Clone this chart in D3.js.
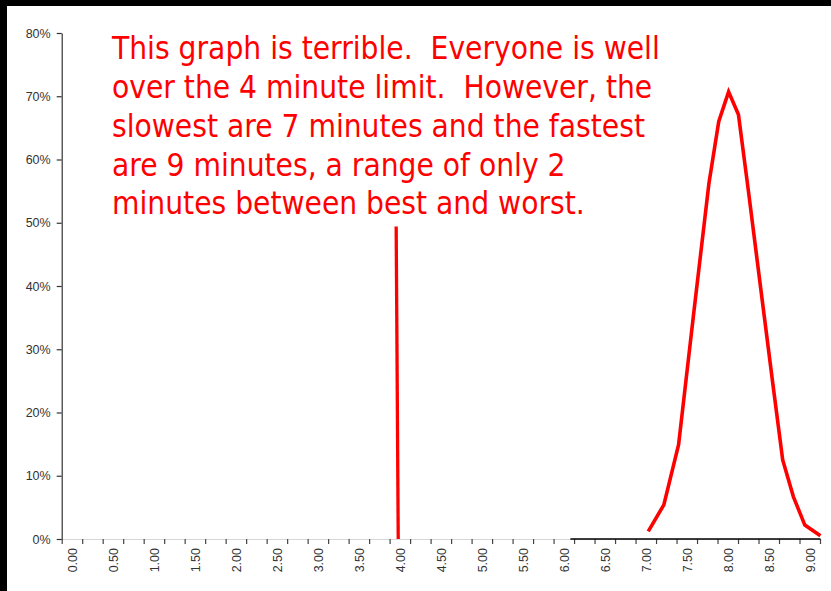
<!DOCTYPE html>
<html>
<head>
<meta charset="utf-8">
<script src="https://cdn.jsdelivr.net/npm/d3@7"></script>
<style>
  html, body { margin: 0; padding: 0; background: #000; }
  svg { display: block; }
</style>
</head>
<body>
<script>
// ---- data ----
const xTickLabels = ["0.00","0.50","1.00","1.50","2.00","2.50","3.00","3.50","4.00","4.50",
                     "5.00","5.50","6.00","6.50","7.00","7.50","8.00","8.50","9.00"];
const xLabelValues = [0,0.5,1,1.5,2,2.5,3,3.5,4,4.5,5,5.5,6,6.5,7,7.5,8,8.5,9];
const yTickValues = [0,0.1,0.2,0.3,0.4,0.5,0.6,0.7,0.8];
const yTickLabels = ["0%","10%","20%","30%","40%","50%","60%","70%","80%"];

// distribution of times (minutes) and share of people
const minutes = [7.03, 7.22, 7.40, 7.58, 7.77, 7.89, 8.01, 8.13, 8.25, 8.40, 8.55, 8.67, 8.80, 8.94, 9.13];
const share   = [0.012,0.054,0.149,0.352,0.562,0.660,0.707,0.671,0.552,0.398,0.245,0.125,0.067,0.022,0.005];

// 4 minute limit marker
const limitMinutes = [3.955, 3.98];
const limitShare   = [0.494, 0];

// zero baseline series
const zeroMinutes = [6.08, 9.13];
const zeroShare   = [0, 0];

const noteLines = [
  "This graph is terrible.  Everyone is well",
  "over the 4 minute limit.  However, the",
  "slowest are 7 minutes and the fastest",
  "are 9 minutes, a range of only 2",
  "minutes between best and worst."
];

// ---- drawing ----
const W = 831, H = 591;
const svg = d3.select("body").append("svg").attr("width", W).attr("height", H);
svg.append("rect").attr("width", W).attr("height", H).attr("fill", "#000");
svg.append("rect").attr("x", 7).attr("y", 6).attr("width", W - 7).attr("height", H - 6).attr("fill", "#fff");

const x = d3.scaleLinear().domain([-0.125, 9.125]).range([61.7, 820]);
const y = d3.scaleLinear().domain([0, 0.8]).range([539, 33]);

const font = "'Liberation Sans', Arial, sans-serif";

// x axis baseline (light)
svg.append("line")
  .attr("x1", x(-0.125)).attr("x2", x(9.125))
  .attr("y1", y(0) + 0.5).attr("y2", y(0) + 0.5)
  .attr("stroke", "#d8d8d8").attr("stroke-width", 1);

// x minor ticks (category boundaries)
const tickPos = d3.range(38).map(j => -0.125 + 0.25 * j);
const xTicksAxis = d3.axisBottom(x).tickValues(tickPos).tickFormat("").tickSizeOuter(0).tickSizeInner(5);
const gxt = svg.append("g").attr("transform", `translate(0,${y(0)})`).call(xTicksAxis);
gxt.select(".domain").remove();
gxt.selectAll(".tick line").attr("stroke", "#444").attr("stroke-width", 1.2);

// x labels
const xLabelAxis = d3.axisBottom(x).tickValues(xLabelValues)
  .tickFormat((d, i) => xTickLabels[i]).tickSize(0);
const gxl = svg.append("g").attr("transform", `translate(0,${y(0)})`).call(xLabelAxis);
gxl.select(".domain").remove();
gxl.selectAll(".tick text")
  .attr("font-family", font).attr("font-size", "12.5px").attr("fill", "#333")
  .attr("transform", "rotate(-90)")
  .attr("text-anchor", "end")
  .attr("x", -9).attr("y", 0).attr("dy", "0.35em");

// y axis
const yAxis = d3.axisLeft(y).tickValues(yTickValues)
  .tickFormat((d, i) => yTickLabels[i]).tickSizeOuter(0).tickSizeInner(5).tickPadding(6);
const gy = svg.append("g").attr("transform", `translate(${x(-0.125)},0)`).call(yAxis);
gy.select(".domain").attr("stroke", "#333").attr("stroke-width", 1.2);
gy.selectAll(".tick line").attr("stroke", "#333").attr("stroke-width", 1.2);
gy.selectAll(".tick text").attr("font-family", font).attr("font-size", "12.5px").attr("fill", "#333");

const line = d3.line().x(d => x(d[0])).y(d => y(d[1]));

// zero series (black)
svg.append("path")
  .datum(d3.zip(zeroMinutes, zeroShare))
  .attr("d", line).attr("fill", "none").attr("stroke", "#000").attr("stroke-width", 1.6);

// limit marker
svg.append("path")
  .datum(d3.zip(limitMinutes, limitShare))
  .attr("d", line).attr("fill", "none").attr("stroke", "#ff0000").attr("stroke-width", 3.3);

// distribution curve
svg.append("path")
  .datum(d3.zip(minutes, share))
  .attr("d", line).attr("fill", "none").attr("stroke", "#ff0000")
  .attr("stroke-width", 3.6).attr("stroke-linejoin", "miter").attr("stroke-miterlimit", 4);

// annotation
const note = svg.append("g").attr("transform", "translate(112,0)");
const tx = note.append("text")
  .attr("font-family", "'DejaVu Sans', Verdana, sans-serif")
  .attr("font-size", "32px").attr("fill", "#ff0000")
  .style("white-space", "pre");
const baselines = [59, 98, 137, 176, 214];
noteLines.forEach((t, i) => {
  tx.append("tspan").attr("x", 0).attr("y", baselines[i]).text(t);
});
// condense horizontally to match the reference width
const firstLen = tx.select("tspan").node().getComputedTextLength();
const sx = 548 / firstLen;
note.attr("transform", `translate(112,0) scale(${sx},1)`);
</script>
</body>
</html>
